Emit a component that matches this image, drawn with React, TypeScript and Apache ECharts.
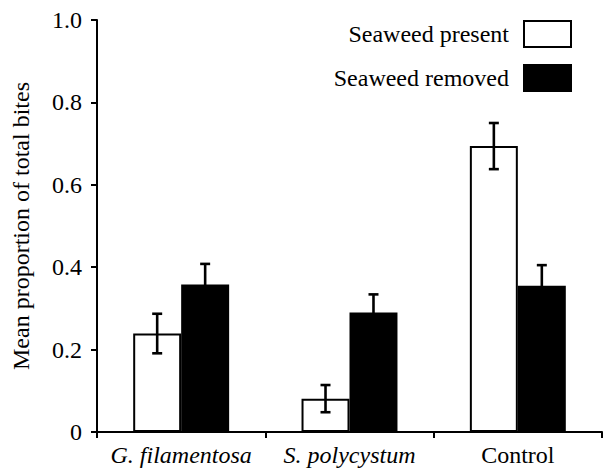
import React, { useEffect, useRef } from "react";
import * as echarts from "echarts";

const categories = ["G. filamentosa", "S. polycystum", "Control"];
const italicCats = [true, true, false];
const presentMeans = [0.239, 0.081, 0.694];
const presentErr = [0.048, 0.033, 0.056];
const removedMeans = [0.358, 0.29, 0.355];
const removedErr = [0.05, 0.044, 0.05];
const seriesNames = ["Seaweed present", "Seaweed removed"];
const yTicks = [0, 0.2, 0.4, 0.6, 0.8, 1.0];

const FONT = "Liberation Serif";
const FS = 24;
const BAR_FRAC = 0.285;

function errorSeries(means: number[], errs: number[], sign: number) {
  return {
    type: "custom",
    z: 5,
    silent: true,
    data: means.map((m, i) => [i, m, errs[i]]),
    renderItem: (params: any, api: any) => {
      const idx = api.value(0);
      const m = api.value(1);
      const e = api.value(2);
      const band = api.size([1, 0])[0];
      const c = api.coord([idx, m]);
      const cx = c[0] + sign * band * BAR_FRAC * 0.5;
      const top = api.coord([idx, m + e])[1];
      const bot = api.coord([idx, m - e])[1];
      const hw = 5;
      const style = { stroke: "#000", lineWidth: 2.6 };
      return {
        type: "group",
        children: [
          { type: "line", shape: { x1: cx, y1: top, x2: cx, y2: bot }, style },
          { type: "line", shape: { x1: cx - hw, y1: top, x2: cx + hw, y2: top }, style },
          { type: "line", shape: { x1: cx - hw, y1: bot, x2: cx + hw, y2: bot }, style },
        ],
      };
    },
  };
}

export default function App() {
  const ref = useRef<HTMLDivElement>(null);
  useEffect(() => {
    if (!ref.current) return;
    const chart = echarts.init(ref.current, undefined, { renderer: "svg" });
    chart.setOption({
      animation: false,
      backgroundColor: "#fff",
      textStyle: { fontFamily: FONT, color: "#000" },
      grid: { left: 97, right: 3, top: 20, bottom: 40 },
      legend: {
        data: seriesNames,
        orient: "vertical",
        right: 28,
        top: 15,
        icon: "rect",
        itemWidth: 47,
        itemHeight: 26,
        itemGap: 16,
        align: "right",
        selectedMode: false,
        textStyle: { fontFamily: FONT, fontSize: FS, color: "#000", padding: [0, 10, 0, 0] },
      },
      xAxis: {
        type: "category",
        data: categories,
        axisLine: { lineStyle: { color: "#000", width: 2 } },
        axisTick: { show: true, length: 6, lineStyle: { color: "#000", width: 2 }, alignWithLabel: false },
        axisLabel: {
          interval: 0,
          margin: 11,
          fontSize: FS,
          fontFamily: FONT,
          color: "#000",
          formatter: (v: string) => {
            const i = categories.indexOf(v);
            return italicCats[i] ? "{i|" + v + "}" : "{n|" + v + "}";
          },
          rich: {
            i: { fontStyle: "italic", fontSize: FS, fontFamily: FONT, color: "#000" },
            n: { fontSize: FS, fontFamily: FONT, color: "#000" },
          },
        },
      },
      yAxis: {
        type: "value",
        min: 0,
        max: 1,
        interval: 0.2,
        name: "Mean proportion of total bites",
        nameLocation: "middle",
        nameGap: 64,
        nameTextStyle: { fontSize: FS, fontFamily: FONT, color: "#000" },
        splitLine: { show: false },
        axisLine: { show: true, lineStyle: { color: "#000", width: 2 } },
        axisTick: { show: true, length: 6, lineStyle: { color: "#000", width: 2 } },
        axisLabel: {
          margin: 15,
          fontSize: FS,
          fontFamily: FONT,
          color: "#000",
          formatter: (v: number) => {
            const t = yTicks.find((x) => Math.abs(x - v) < 1e-9);
            const val = t === undefined ? v : t;
            return val === 0 ? "0" : val.toFixed(1);
          },
        },
      },
      series: [
        {
          name: seriesNames[0],
          type: "bar",
          data: presentMeans,
          barWidth: BAR_FRAC * 100 + "%",
          barGap: "0%",
          itemStyle: { color: "#fff", borderColor: "#000", borderWidth: 2 },
        },
        {
          name: seriesNames[1],
          type: "bar",
          data: removedMeans,
          barWidth: BAR_FRAC * 100 + "%",
          barGap: "0%",
          itemStyle: { color: "#000", borderColor: "#000", borderWidth: 2 },
        },
        errorSeries(presentMeans, presentErr, -1),
        errorSeries(removedMeans, removedErr, 1),
      ],
    });
    return () => chart.dispose();
  }, []);
  return (
    <div
      ref={ref}
      style={{ position: "fixed", left: 0, top: 0, width: 605, height: 472, background: "#fff" }}
    />
  );
}
